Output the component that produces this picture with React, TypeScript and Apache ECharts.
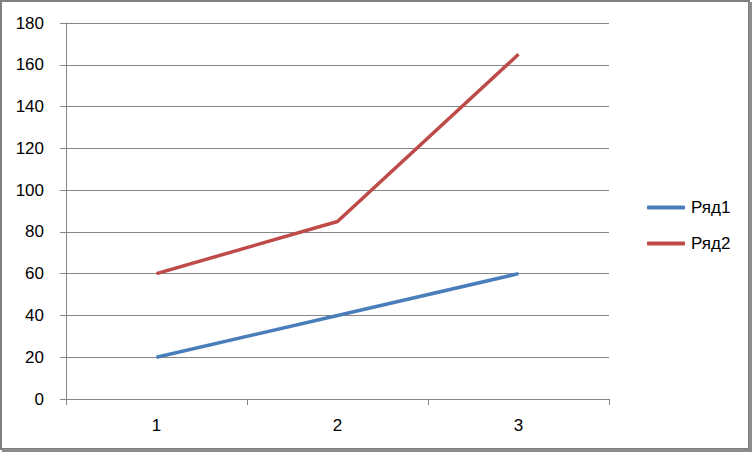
import React, { useEffect, useRef } from "react";
import * as echarts from "echarts";

const categories = ["1", "2", "3"];
const series1Name = "Ряд1";
const series2Name = "Ряд2";
const series1 = [20, 40, 60];
const series2 = [60, 85, 165];

export default function App() {
  const ref = useRef<HTMLDivElement>(null);
  useEffect(() => {
    document.body.style.margin = "0";
    const chart = echarts.init(ref.current!, null, { renderer: "svg" });
    const font = "'Liberation Sans', Arial, sans-serif";
    chart.setOption({
      animation: false,
      backgroundColor: "#ffffff",
      textStyle: { fontFamily: font },
      grid: { left: 66, right: 143, top: 23, bottom: 53 },
      xAxis: {
        type: "category",
        data: categories,
        boundaryGap: true,
        axisLine: { lineStyle: { color: "#868686", width: 1 } },
        axisTick: { show: true, length: 6, lineStyle: { color: "#868686" } },
        axisLabel: { color: "#000", fontSize: 17, margin: 18, fontFamily: font },
        splitLine: { show: false },
      },
      yAxis: {
        type: "value",
        min: 0,
        max: 180,
        interval: 20,
        axisLine: { show: true, lineStyle: { color: "#868686", width: 1 } },
        axisTick: { show: true, length: 6, lineStyle: { color: "#868686" } },
        axisLabel: { color: "#000", fontSize: 17, margin: 22, fontFamily: font },
        splitLine: { show: true, lineStyle: { color: "#868686", width: 1 } },
      },
      legend: {
        orient: "vertical",
        left: 642,
        top: 194,
        itemWidth: 38,
        itemHeight: 4,
        itemGap: 19,
        icon: "roundRect",
        textStyle: { color: "#000", fontSize: 17, fontFamily: font, padding: [0, 0, 0, 1] },
        data: [series1Name, series2Name],
      },
      series: [
        {
          name: series1Name,
          type: "line",
          data: series1,
          symbol: "none",
          lineStyle: { color: "#4A7EBB", width: 3.5 },
          itemStyle: { color: "#4A7EBB" },
        },
        {
          name: series2Name,
          type: "line",
          data: series2,
          symbol: "none",
          lineStyle: { color: "#BE4B48", width: 3.5 },
          itemStyle: { color: "#BE4B48" },
        },
      ],
      graphic: [
        {
          type: "rect",
          shape: { x: 1, y: 1, width: 748, height: 448 },
          style: { fill: "none", stroke: "#7f7f7f", lineWidth: 2 },
          silent: true,
        },
        {
          type: "rect",
          shape: { x: 749, y: 2, width: 3, height: 450 },
          style: { fill: "#8c8c8c" },
          silent: true,
        },
        {
          type: "rect",
          shape: { x: 2, y: 449, width: 750, height: 3 },
          style: { fill: "#8c8c8c" },
          silent: true,
        },
      ],
    });
    return () => chart.dispose();
  }, []);
  return (
    <div
      ref={ref}
      style={{ position: "absolute", left: 0, top: 0, width: 752, height: 452 }}
    />
  );
}
